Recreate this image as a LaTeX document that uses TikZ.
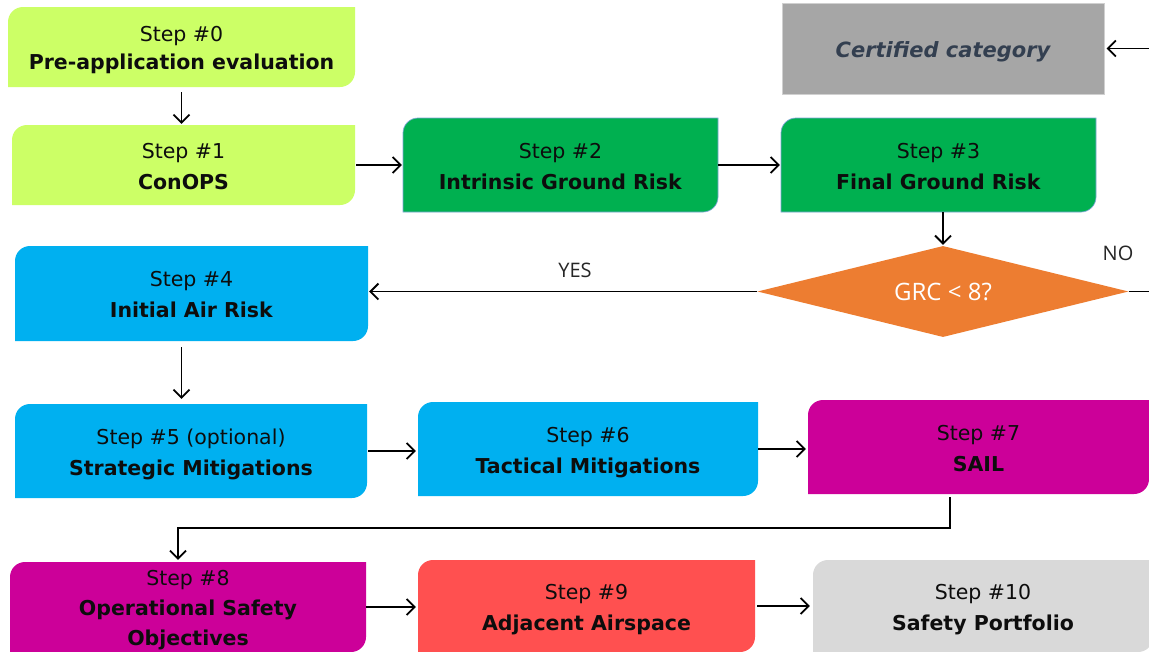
\documentclass[tikz,border=0pt]{standalone}
\usepackage{fontspec}
\setmainfont{DejaVu Sans}
\newfontfamily\osans{Open Sans}
\usetikzlibrary{arrows.meta,shapes.geometric}
\definecolor{limeg}{HTML}{CCFF66}
\definecolor{grn}{HTML}{00B050}
\definecolor{blu}{HTML}{00B0F0}
\definecolor{mag}{HTML}{CC0099}
\definecolor{redb}{HTML}{FF5050}
\definecolor{lgray}{HTML}{D9D9D9}
\definecolor{cgray}{HTML}{A6A6A6}
\definecolor{cborder}{HTML}{D0D0D0}
\definecolor{ctext}{HTML}{333F50}
\definecolor{orng}{HTML}{ED7D31}
\definecolor{bblue}{HTML}{7FA7D6}
\definecolor{txt}{HTML}{0D0D0D}
\newcommand\stepnode[7]{%
  \fill[#6] (#2,-#5) -- (#2,{-#3-15})
    .. controls (#2,{-#3-6.7}) and ({#2+6.7},-#3) .. ({#2+15},-#3)
    -- (#4,-#3) -- (#4,{-#5+15})
    .. controls (#4,{-#5+6.7}) and ({#4-6.7},-#5) .. ({#4-15},-#5) -- cycle;
  \node[stepframe, minimum width={(#4-#2)*1pt}, minimum height={(#5-#3)*1pt},
    label={[steptext]center:{#7}}]
    (#1) at ({(#2+#4)/2},{-(#3+#5)/2}) {};
}
\tikzset{
  stepframe/.style={shape=rectangle, inner sep=0pt},
  steptext/.style={align=center, inner sep=0pt, text=txt,
    font=\fontsize{20.5}{31}\selectfont, yshift=-2.5pt},
  arr/.style={draw=black, line width=1.8pt,
    -{Straight Barb[length=8pt,width=16pt]}},
  lbl/.style={inner sep=0pt, text=black!85, font=\osans\fontsize{20}{23}\selectfont},
}
\begin{document}
\begin{tikzpicture}[x=1pt,y=1pt]
\clip (0,0) rectangle (1149,-651);
\fill[white] (0,0) rectangle (1149,-651);

\stepnode{s0}{8}{7}{355}{87}{fill=limeg}{\strut Step \#0\\[-3pt]\textbf{Pre-application evaluation}\strut}
\stepnode{s1}{12}{125}{355}{205}{fill=limeg}{\strut Step \#1\\\textbf{ConOPS}\strut}
\stepnode{s2}{403}{118}{718}{212}{fill=grn,draw=bblue,line width=0.7pt}{\strut Step \#2\\\textbf{Intrinsic Ground Risk}\strut}
\stepnode{s3}{781}{118}{1096}{212}{fill=grn,draw=bblue,line width=0.7pt}{\strut Step \#3\\\textbf{Final Ground Risk}\strut}
\stepnode{s4}{15}{246}{368}{341}{fill=blu}{\strut Step \#4\\\textbf{Initial Air Risk}\strut}
\stepnode{s5}{15}{404}{367}{498}{fill=blu}{\strut Step \#5 (optional)\\\textbf{Strategic Mitigations}\strut}
\stepnode{s6}{418}{402}{758}{496}{fill=blu}{\strut Step \#6\\\textbf{Tactical Mitigations}\strut}
\stepnode{s7}{808}{400}{1149}{494}{fill=mag}{\strut Step \#7\\\textbf{SAIL}\strut}
\stepnode{s8}{10}{562}{366}{652}{fill=mag}{\strut Step \#8\\[-1pt]\textbf{Operational Safety}\\[-1pt]\textbf{Objectives}\strut}
\stepnode{s9}{418}{560}{755}{652}{fill=redb}{\strut Step \#9\\\textbf{Adjacent Airspace}\strut}
\stepnode{s10}{813}{560}{1153}{652}{fill=lgray}{\strut Step \#10\\\textbf{Safety Portfolio}\strut}

\node[fill=cgray, draw=cborder, line width=1pt, minimum width=322pt, minimum height=91pt,
  inner sep=0pt, text height=18pt, text depth=0pt, text=ctext,
  font=\fontsize{21}{24}\selectfont\bfseries\itshape]
  (cert) at (943,-48.5) {Certified category};

\node[diamond, fill=orng, minimum width=371pt, minimum height=91pt, inner sep=0pt,
  aspect=4.08, text=white, font=\osans\fontsize{24}{28}\selectfont]
  (dec) at (943,-291.5) {GRC < 8?};

\node[lbl] (yes) at (575,-270) {YES};
\node[lbl] (no) at (1118,-253) {NO};

\coordinate (edge) at (1157,-291.5);
\coordinate (j1) at (950,-528);
\coordinate (j2) at (178,-528);

\draw[arr, shorten <=5pt, shorten >=1pt] (s0.south) -- (s0.south |- s1.north);
\draw[arr, shorten <=1pt, shorten >=1pt] (s1.east) -- (s1.east -| s2.west);
\draw[arr, shorten >=1pt] (s2.east) -- (s2.east -| s3.west);
\draw[arr, shorten >=1pt] (s3.south -| dec.north) -- (dec.north);
\draw[arr, shorten >=1pt] (dec.west) -- (dec.west -| s4.east);
\draw[arr, shorten >=2pt] (dec.east) -- (edge) |- (cert.east);
\draw[arr, shorten <=6pt, shorten >=5pt] (s4.south -| s0.south) -- (s5.north -| s0.south);
\draw[arr, shorten <=1pt, shorten >=2pt] (s5.east) -- (s5.east -| s6.west);
\draw[arr, shorten >=2pt] (s6.east) -- (s6.east -| s7.west);
\draw[arr, shorten <=3pt, shorten >=2pt] (s7.south -| j1) -- (j1) -- (j2) -- (s8.north -| j2);
\draw[arr, shorten >=2pt] (s8.east) -- (s8.east -| s9.west);
\draw[arr, shorten <=2pt, shorten >=3pt] (s9.east) -- (s9.east -| s10.west);
\end{tikzpicture}
\end{document}
